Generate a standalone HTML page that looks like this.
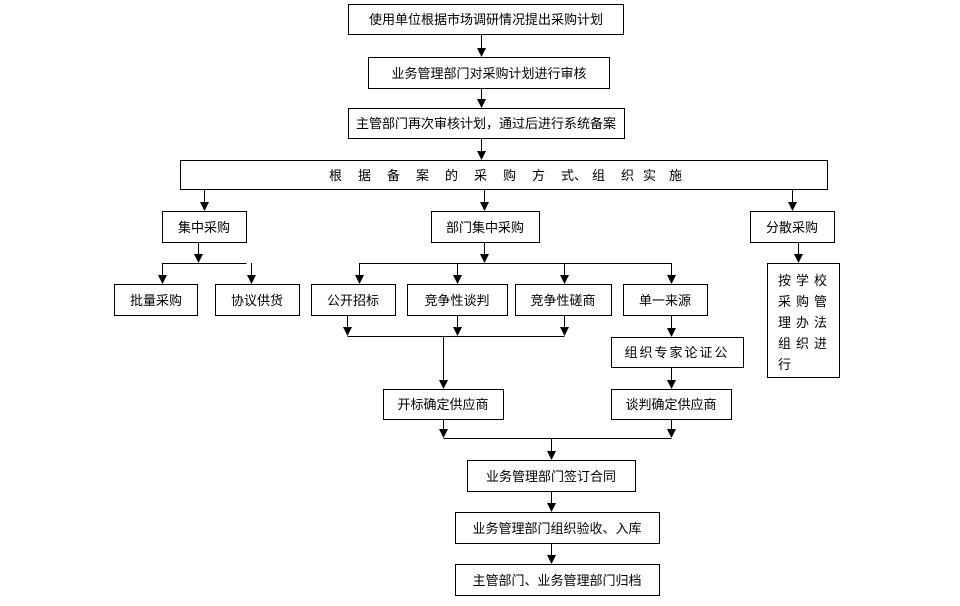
<!DOCTYPE html>
<html><head><meta charset="utf-8"><style>
html,body{margin:0;padding:0;background:#fff;}
svg{display:block;}
text{font-family:"Liberation Sans","Noto Sans CJK SC","WenQuanYi Zen Hei",sans-serif;font-size:13px;fill:#000;}
</style></head><body>
<svg width="960" height="606" viewBox="0 0 960 606" xmlns="http://www.w3.org/2000/svg">
<g fill="none" stroke="#000" stroke-width="1">
<rect x="348.5" y="4.5" width="275" height="30"/>
<rect x="368.5" y="57.5" width="241" height="31"/>
<rect x="348.5" y="108.5" width="276" height="30"/>
<rect x="180.5" y="160.5" width="647" height="29"/>
<rect x="162.5" y="211.5" width="84" height="31"/>
<rect x="431.5" y="211.5" width="108" height="31"/>
<rect x="750.5" y="211.5" width="84" height="31"/>
<rect x="114.5" y="284.5" width="83" height="31"/>
<rect x="215.5" y="284.5" width="84" height="31"/>
<rect x="311.5" y="284.5" width="84" height="31"/>
<rect x="407.5" y="284.5" width="100" height="31"/>
<rect x="515.5" y="284.5" width="96" height="31"/>
<rect x="623.5" y="284.5" width="84" height="31"/>
<rect x="767.5" y="263.5" width="72" height="114"/>
<rect x="611.5" y="337.5" width="132" height="30"/>
<rect x="611.5" y="389.5" width="120" height="30"/>
<rect x="383.5" y="389.5" width="120" height="30"/>
<rect x="467.5" y="460.5" width="168" height="31"/>
<rect x="455.5" y="512.5" width="204" height="31"/>
<rect x="455.5" y="564.5" width="204" height="31"/>
<path d="M162.5,263.5H246.5 M359.5,263.5H671.5 M347.5,336.5H564.5 M443.5,438.5H671.5"/>
</g>
<g stroke="#000" stroke-width="1">
<line x1="481.5" y1="35" x2="481.5" y2="50"/><path d="M477,48 L486,48 L481.5,57 Z" fill="#000" stroke="none"/>
<line x1="481.5" y1="89" x2="481.5" y2="101"/><path d="M477,99 L486,99 L481.5,108 Z" fill="#000" stroke="none"/>
<line x1="481.5" y1="139" x2="481.5" y2="153"/><path d="M477,151 L486,151 L481.5,160 Z" fill="#000" stroke="none"/>
<line x1="204.5" y1="190" x2="204.5" y2="204"/><path d="M200,202 L209,202 L204.5,211 Z" fill="#000" stroke="none"/>
<line x1="484.5" y1="190" x2="484.5" y2="204"/><path d="M480,202 L489,202 L484.5,211 Z" fill="#000" stroke="none"/>
<line x1="792.5" y1="190" x2="792.5" y2="204"/><path d="M788,202 L797,202 L792.5,211 Z" fill="#000" stroke="none"/>
<line x1="198.5" y1="243" x2="198.5" y2="256"/><path d="M194,254 L203,254 L198.5,263 Z" fill="#000" stroke="none"/>
<line x1="162.5" y1="263" x2="162.5" y2="277"/><path d="M158,275 L167,275 L162.5,284 Z" fill="#000" stroke="none"/>
<line x1="251.5" y1="263" x2="251.5" y2="277"/><path d="M247,275 L256,275 L251.5,284 Z" fill="#000" stroke="none"/>
<line x1="484.5" y1="243" x2="484.5" y2="256"/><path d="M480,254 L489,254 L484.5,263 Z" fill="#000" stroke="none"/>
<line x1="359.5" y1="263" x2="359.5" y2="277"/><path d="M355,275 L364,275 L359.5,284 Z" fill="#000" stroke="none"/>
<line x1="457.5" y1="263" x2="457.5" y2="277"/><path d="M453,275 L462,275 L457.5,284 Z" fill="#000" stroke="none"/>
<line x1="564.5" y1="263" x2="564.5" y2="277"/><path d="M560,275 L569,275 L564.5,284 Z" fill="#000" stroke="none"/>
<line x1="671.5" y1="263" x2="671.5" y2="277"/><path d="M667,275 L676,275 L671.5,284 Z" fill="#000" stroke="none"/>
<line x1="798.5" y1="243" x2="798.5" y2="256"/><path d="M794,254 L803,254 L798.5,263 Z" fill="#000" stroke="none"/>
<line x1="347.5" y1="316" x2="347.5" y2="329"/><path d="M343,327 L352,327 L347.5,336 Z" fill="#000" stroke="none"/>
<line x1="457.5" y1="316" x2="457.5" y2="329"/><path d="M453,327 L462,327 L457.5,336 Z" fill="#000" stroke="none"/>
<line x1="564.5" y1="316" x2="564.5" y2="329"/><path d="M560,327 L569,327 L564.5,336 Z" fill="#000" stroke="none"/>
<line x1="443.5" y1="336" x2="443.5" y2="382"/><path d="M439,380 L448,380 L443.5,389 Z" fill="#000" stroke="none"/>
<line x1="671.5" y1="316" x2="671.5" y2="330"/><path d="M667,328 L676,328 L671.5,337 Z" fill="#000" stroke="none"/>
<line x1="671.5" y1="368" x2="671.5" y2="382"/><path d="M667,380 L676,380 L671.5,389 Z" fill="#000" stroke="none"/>
<line x1="443.5" y1="420" x2="443.5" y2="431"/><path d="M439,429 L448,429 L443.5,438 Z" fill="#000" stroke="none"/>
<line x1="671.5" y1="420" x2="671.5" y2="431"/><path d="M667,429 L676,429 L671.5,438 Z" fill="#000" stroke="none"/>
<line x1="551.5" y1="438" x2="551.5" y2="453"/><path d="M547,451 L556,451 L551.5,460 Z" fill="#000" stroke="none"/>
<line x1="551.5" y1="492" x2="551.5" y2="505"/><path d="M547,503 L556,503 L551.5,512 Z" fill="#000" stroke="none"/>
<line x1="551.5" y1="544" x2="551.5" y2="557"/><path d="M547,555 L556,555 L551.5,564 Z" fill="#000" stroke="none"/>
</g>
<g text-anchor="middle">
<text x="486" y="24">使用单位根据市场调研情况提出采购计划</text>
<text x="489" y="78">业务管理部门对采购计划进行审核</text>
<text x="486" y="128">主管部门再次审核计划，通过后进行系统备案</text>
<text x="204" y="232">集中采购</text>
<text x="485" y="232">部门集中采购</text>
<text x="792" y="232">分散采购</text>
<text x="156" y="305">批量采购</text>
<text x="257" y="305">协议供货</text>
<text x="353" y="305">公开招标</text>
<text x="457" y="305">竞争性谈判</text>
<text x="563" y="305">竞争性磋商</text>
<text x="665" y="305">单一来源</text>
<text x="677" y="357" letter-spacing="2">组织专家论证公</text>
<text x="671" y="409">谈判确定供应商</text>
<text x="443" y="409">开标确定供应商</text>
<text x="551" y="481">业务管理部门签订合同</text>
<text x="557" y="533">业务管理部门组织验收、入库</text>
<text x="557" y="585">主管部门、业务管理部门归档</text>
</g>
<g>
<text x="329" y="180">根</text><text x="358" y="180">据</text><text x="387" y="180">备</text><text x="416" y="180">案</text><text x="445" y="180">的</text><text x="474" y="180">采</text><text x="503" y="180">购</text><text x="532" y="180">方</text><text x="561" y="180">式</text><text x="574" y="180">、</text><text x="592" y="180">组</text><text x="621" y="180">织</text><text x="643" y="180">实</text><text x="669" y="180">施</text>
</g>
<g>
<text x="778" y="285" letter-spacing="5">按学校</text>
<text x="778" y="306" letter-spacing="5">采购管</text>
<text x="778" y="327" letter-spacing="5">理办法</text>
<text x="778" y="348" letter-spacing="5">组织进</text>
<text x="778" y="369">行</text>
</g>
</svg>
</body></html>
